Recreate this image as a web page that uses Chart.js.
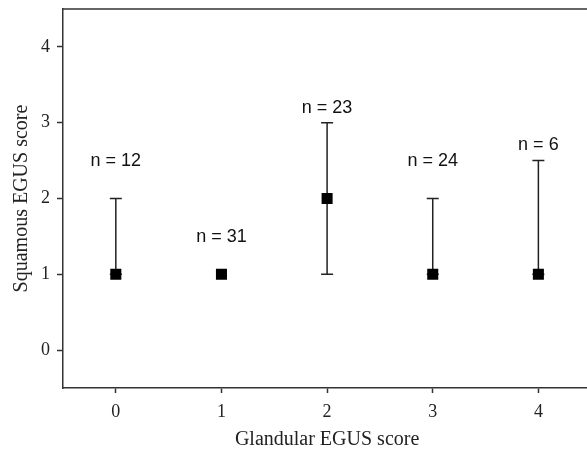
<!DOCTYPE html>
<html>
<head>
<meta charset="utf-8">
<script src="https://cdn.jsdelivr.net/npm/chart.js@4"></script>
<style>
  body { margin: 0; overflow: hidden; background: #fff; }
  #wrap { width: 599px; height: 452px; }
</style>
</head>
<body>
<div id="wrap"><canvas id="chart" width="599" height="452"></canvas></div>
<script>
// glandular score (x), median squamous score, error bar ends, group sizes
const glandular = [0, 1, 2, 3, 4];
const squamous = [1, 1, 2, 1, 1];
const barLow = [1, 1, 1, 1, 1];
const barHigh = [2, 1, 3, 2, 2.5];
const groupN = [12, 31, 23, 24, 6];
const labelY = [2.49, 1.49, 3.19, 2.49, 2.7];
const xTicks = [0, 1, 2, 3, 4];
const yTicks = [0, 1, 2, 3, 4];

const ink = '#222';

const extras = {
  id: 'extras',
  beforeDatasetsDraw(chart) {
    const ctx = chart.ctx;
    const xs = chart.scales.x, ys = chart.scales.y;
    ctx.save();
    ctx.strokeStyle = ink;
    ctx.lineWidth = 1.5;
    for (let i = 0; i < glandular.length; i++) {
      if (barHigh[i] === barLow[i]) continue;
      let px = xs.getPixelForValue(glandular[i]);
      let lo = ys.getPixelForValue(barLow[i]);
      let hi = ys.getPixelForValue(barHigh[i]);
      ctx.beginPath();
      ctx.moveTo(px, lo); ctx.lineTo(px, hi);
      ctx.moveTo(px - 6, hi); ctx.lineTo(px + 6, hi);
      ctx.moveTo(px - 6, lo); ctx.lineTo(px + 6, lo);
      ctx.stroke();
    }
    // top frame line
    let a = chart.chartArea;
    ctx.strokeStyle = '#333';
    ctx.beginPath();
    ctx.moveTo(a.left, a.top); ctx.lineTo(a.right, a.top);
    ctx.stroke();
    ctx.restore();
  },
  afterDatasetsDraw(chart) {
    const ctx = chart.ctx;
    const xs = chart.scales.x, ys = chart.scales.y;
    ctx.save();
    ctx.fillStyle = '#111';
    ctx.font = '18px "Liberation Sans", Arial, sans-serif';
    ctx.textAlign = 'center';
    ctx.textBaseline = 'middle';
    for (let i = 0; i < groupN.length; i++) {
      ctx.fillText('n = ' + groupN[i], xs.getPixelForValue(glandular[i]), ys.getPixelForValue(labelY[i]));
    }
    ctx.restore();
  }
};

const serif = '"Liberation Serif", "Times New Roman", serif';

function noPad(s) {
  s.paddingTop = 0; s.paddingBottom = 0; s.paddingLeft = 0; s.paddingRight = 0;
}

new Chart(document.getElementById('chart'), {
  type: 'scatter',
  data: {
    datasets: [{
      data: glandular.map((g, i) => ({ x: g, y: squamous[i] })),
      pointStyle: 'rect',
      pointRadius: 7.8,
      pointHoverRadius: 7.8,
      backgroundColor: '#000',
      borderColor: '#000',
      borderWidth: 0
    }]
  },
  options: {
    responsive: false,
    animation: false,
    layout: { padding: { top: 9, left: 0, right: 0, bottom: 0 } },
    plugins: { legend: { display: false }, tooltip: { enabled: false } },
    scales: {
      x: {
        type: 'linear',
        min: -0.5,
        max: 4.5,
        afterBuildTicks: s => { s.ticks = xTicks.map(v => ({ value: v })); },
        afterFit: s => { s.height = 64; noPad(s); },
        grid: { drawOnChartArea: false, drawTicks: true, tickLength: 5, tickColor: '#333', tickWidth: 1.5 },
        border: { display: true, color: '#333', width: 1.5 },
        ticks: { color: ink, font: { family: serif, size: 18 }, padding: 8, maxRotation: 0 },
        title: { display: true, text: 'Glandular EGUS score', color: ink, font: { family: serif, size: 20 }, padding: { top: 0, bottom: 0 } }
      },
      y: {
        min: -0.5,
        max: 4.5,
        afterBuildTicks: s => { s.ticks = yTicks.map(v => ({ value: v })); },
        afterFit: s => { s.width = 63; noPad(s); },
        grid: { drawOnChartArea: false, drawTicks: true, tickLength: 6, tickColor: '#333', tickWidth: 1.5 },
        border: { display: true, color: '#333', width: 1.5 },
        ticks: { color: ink, font: { family: serif, size: 18 }, padding: 7 },
        title: { display: true, text: 'Squamous EGUS score', color: ink, font: { family: serif, size: 20 }, padding: { top: 10, bottom: 0 } }
      }
    }
  },
  plugins: [extras]
});
</script>
</body>
</html>
